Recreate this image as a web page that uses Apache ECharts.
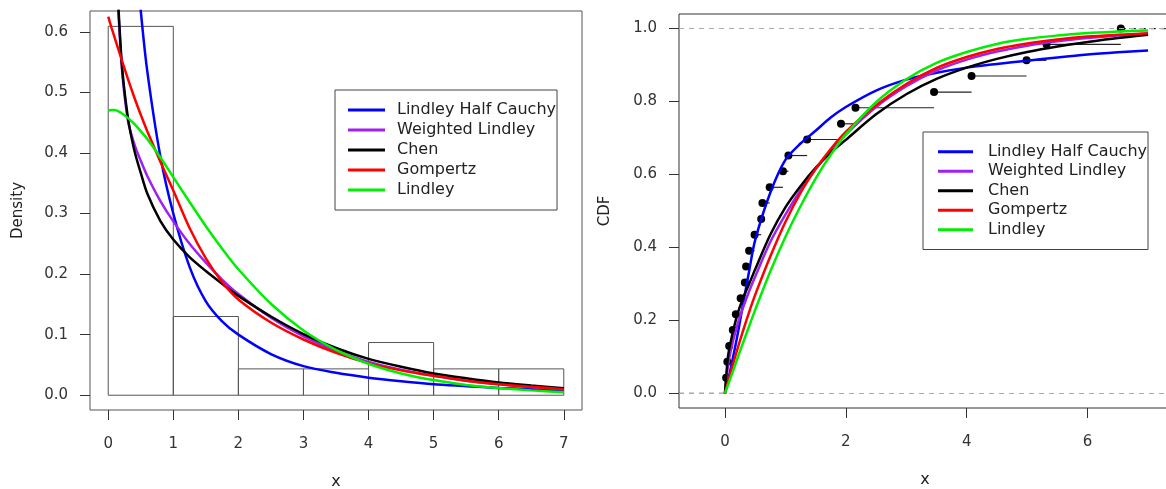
<!DOCTYPE html>
<html>
<head>
<meta charset="utf-8">
<script src="https://cdn.jsdelivr.net/npm/echarts@6/dist/echarts.min.js"></script>
<style>
  html, body { margin: 0; padding: 0; background: #fff; }
  #chart { width: 1166px; height: 489px; }
</style>
</head>
<body>
<div id="chart"></div>
<script>
// Histogram + fitted densities (left), empirical vs fitted CDFs (right)
const FONT = "DejaVu Sans";

const seriesNames = ["Lindley Half Cauchy", "Weighted Lindley", "Chen", "Gompertz", "Lindley"];
const seriesColors = ["#0000FF", "#A020F0", "#000000", "#FF0000", "#00EE00"];

// histogram bins (density scale)
const histLeft = [0, 1, 2, 3, 4, 5, 6];
const histRight = [1, 2, 3, 4, 5, 6, 7];
const histDensity = [0.609, 0.130, 0.0435, 0.0435, 0.087, 0.0435, 0.0435];

// fitted densities
const densX = [0, 0.05, 0.1, 0.2, 0.3, 0.4, 0.5, 0.6, 0.8, 1, 1.25, 1.5, 1.75, 2, 2.5, 3, 3.5, 4, 4.5, 5, 5.5, 6, 6.5, 7];
const densLHC = [null, null, null, 1.05, 0.90, 0.76, 0.635, 0.535, 0.395, 0.300, 0.212, 0.155, 0.122, 0.100, 0.068, 0.048, 0.037, 0.029, 0.023, 0.018, 0.015, 0.012, 0.010, 0.008];
const densWL = [null, 1.15, 0.78, 0.555, 0.455, 0.415, 0.387, 0.362, 0.321, 0.287, 0.250, 0.219, 0.191, 0.167, 0.128, 0.097, 0.073, 0.055, 0.042, 0.032, 0.024, 0.018, 0.013, 0.010];
const densChen = [null, 1.25, 0.80, 0.56, 0.46, 0.405, 0.367, 0.333, 0.288, 0.257, 0.228, 0.205, 0.184, 0.164, 0.130, 0.101, 0.078, 0.060, 0.047, 0.036, 0.028, 0.021, 0.016, 0.0115];
const densGomp = [0.625, 0.607, 0.590, 0.556, 0.523, 0.492, 0.463, 0.436, 0.386, 0.338, 0.276, 0.226, 0.187, 0.158, 0.120, 0.092, 0.070, 0.053, 0.041, 0.032, 0.024, 0.018, 0.014, 0.010];
const densLind = [0.470, 0.471, 0.471, 0.466, 0.458, 0.448, 0.436, 0.423, 0.393, 0.360, 0.319, 0.279, 0.242, 0.208, 0.151, 0.107, 0.075, 0.052, 0.036, 0.025, 0.017, 0.012, 0.008, 0.005];

// empirical CDF jumps
const obsX = [0.02, 0.04, 0.07, 0.13, 0.18, 0.26, 0.33, 0.35, 0.40, 0.49, 0.60, 0.62, 0.74, 0.96, 1.05, 1.36, 1.92, 2.16, 3.46, 4.08, 4.99, 5.32, 6.55];
const obsF = [0.043, 0.087, 0.130, 0.174, 0.217, 0.261, 0.304, 0.348, 0.391, 0.435, 0.478, 0.522, 0.565, 0.609, 0.652, 0.696, 0.739, 0.783, 0.826, 0.870, 0.913, 0.957, 1.000];

// fitted CDFs
const cdfX = [0, 0.05, 0.1, 0.2, 0.3, 0.4, 0.5, 0.75, 1, 1.25, 1.5, 1.75, 2, 2.5, 3, 3.5, 4, 4.5, 5, 5.5, 6, 6.5, 7];
const cdfLHC = [0, 0.035, 0.072, 0.153, 0.245, 0.335, 0.42, 0.55, 0.64, 0.685, 0.72, 0.756, 0.785, 0.83, 0.86, 0.879, 0.893, 0.903, 0.912, 0.921, 0.929, 0.935, 0.940];
const cdfWL = [0, 0.075, 0.12, 0.185, 0.235, 0.28, 0.32, 0.415, 0.49, 0.557, 0.615, 0.664, 0.71, 0.785, 0.842, 0.885, 0.915, 0.937, 0.953, 0.965, 0.974, 0.981, 0.986];
const cdfChen = [0, 0.10, 0.145, 0.213, 0.262, 0.30, 0.34, 0.435, 0.51, 0.568, 0.618, 0.66, 0.695, 0.765, 0.82, 0.862, 0.893, 0.917, 0.936, 0.951, 0.963, 0.974, 0.983];
const cdfGomp = [0, 0.031, 0.061, 0.118, 0.172, 0.223, 0.27, 0.375, 0.47, 0.55, 0.615, 0.67, 0.717, 0.79, 0.848, 0.892, 0.922, 0.944, 0.959, 0.97, 0.978, 0.983, 0.987];
const cdfLind = [0, 0.023, 0.046, 0.093, 0.139, 0.184, 0.229, 0.334, 0.429, 0.513, 0.589, 0.654, 0.71, 0.798, 0.861, 0.906, 0.936, 0.958, 0.972, 0.981, 0.988, 0.992, 0.995];

// tick labels
const leftXTicks = [0, 1, 2, 3, 4, 5, 6, 7];
const leftYTicks = [0, 0.1, 0.2, 0.3, 0.4, 0.5, 0.6];
const rightXTicks = [0, 2, 4, 6];
const rightYTicks = [0, 0.2, 0.4, 0.6, 0.8, 1.0];

const LX = [-0.28, 7.28], LY = [-0.0244, 0.6344];
const RX = [-0.76, 7.38], RY = [-0.04, 1.04];

const chart = echarts.init(document.getElementById("chart"), null, { renderer: "canvas" });

const pair = (xs, ys) => xs.map((x, i) => [x, ys[i] == null ? "-" : ys[i]]);

function xAxisFor(gridIndex, range, ticks) {
  return {
    type: "value", gridIndex, min: range[0], max: range[1],
    name: "x", nameLocation: "middle", nameGap: 64,
    nameTextStyle: { fontSize: 16, color: "#222", fontFamily: FONT },
    axisLine: { show: false, onZero: false },
    axisTick: { show: true, customValues: ticks, length: 10, lineStyle: { color: "#333", width: 1 } },
    axisLabel: { customValues: ticks, margin: 27, fontSize: 15, color: "#333", fontFamily: FONT },
    splitLine: { show: false },
  };
}

function yAxisFor(gridIndex, range, ticks, name, gap) {
  return {
    type: "value", gridIndex, min: range[0], max: range[1],
    name, nameLocation: "middle", nameGap: gap,
    nameTextStyle: { fontSize: 15, color: "#222", fontFamily: FONT },
    axisLine: { show: false, onZero: false },
    axisTick: { show: true, customValues: ticks, length: 10, lineStyle: { color: "#333", width: 1 } },
    axisLabel: { customValues: ticks, margin: 22, fontSize: 15, color: "#333", fontFamily: FONT,
      formatter: (v) => v.toFixed(1) },
    splitLine: { show: false },
  };
}

function legendAt(left, top, lineW, rowH, padLeft, textPad) {
  return {
    orient: "vertical", left, top,
    data: seriesNames, icon: "rect", itemWidth: lineW, itemHeight: 3, itemGap: 0,
    selectedMode: false,
    padding: [10, 1, 10, padLeft],
    borderColor: "#444", borderWidth: 1, backgroundColor: "#fff",
    textStyle: { fontSize: 16, color: "#222", fontFamily: FONT, lineHeight: rowH, padding: [0, 0, 0, textPad] },
  };
}

const densSets = [densLHC, densWL, densChen, densGomp, densLind];
const cdfSets = [cdfLHC, cdfWL, cdfChen, cdfGomp, cdfLind];

const densSeries = densSets.map((ys, i) => ({
  name: seriesNames[i], type: "line", xAxisIndex: 0, yAxisIndex: 0,
  data: pair(densX, ys), smooth: 0.3, showSymbol: false,
  clip: true, z: 3,
  lineStyle: { color: seriesColors[i], width: 2.5 }, itemStyle: { color: seriesColors[i] },
}));

const cdfSeries = cdfSets.map((ys, i) => ({
  name: seriesNames[i], type: "line", xAxisIndex: 1, yAxisIndex: 1,
  data: pair(cdfX, ys), smooth: 0.3, showSymbol: false,
  clip: true, z: 3,
  lineStyle: { color: seriesColors[i], width: 2.5 }, itemStyle: { color: seriesColors[i] },
}));

// histogram rectangles
const histData = histLeft.map((a, i) => [a, histRight[i], histDensity[i]]);

// ECDF horizontal steps
const stepData = obsX.slice(0, -1).map((x, i) => [x, obsX[i + 1], obsF[i]]);
const tailData = [[RX[0], obsX[0], 0], [obsX[obsX.length - 1], RX[1], 1]];

const segRender = (style) => (params, api) => {
  const a = api.coord([api.value(0), api.value(2)]);
  const b = api.coord([api.value(1), api.value(2)]);
  return { type: "line", shape: { x1: a[0], y1: a[1], x2: b[0], y2: b[1] }, style };
};

const option = {
  animation: false,
  backgroundColor: "#fff",
  grid: [
    { left: 90, top: 11, width: 492, height: 399, outerBoundsMode: "none", containLabel: false,
      show: true, borderColor: "#555", borderWidth: 1, backgroundColor: "transparent" },
    { left: 679, top: 14, width: 492, height: 394, outerBoundsMode: "none", containLabel: false,
      show: true, borderColor: "#333", borderWidth: 1, backgroundColor: "transparent" },
  ],
  xAxis: [xAxisFor(0, LX, leftXTicks), xAxisFor(1, RX, rightXTicks)],
  yAxis: [yAxisFor(0, LY, leftYTicks, "Density", 64), yAxisFor(1, RY, rightYTicks, "CDF", 66)],
  legend: [legendAt(335, 90, 37, 20, 13, 7), legendAt(923, 132, 35, 19.5, 15, 10)],
  series: [
    {
      type: "custom", xAxisIndex: 0, yAxisIndex: 0, data: histData, z: 1,
      renderItem: (params, api) => {
        const p0 = api.coord([api.value(0), api.value(2)]);
        const p1 = api.coord([api.value(1), 0]);
        return {
          type: "rect",
          shape: { x: p0[0], y: p0[1], width: p1[0] - p0[0], height: p1[1] - p0[1] },
          style: { fill: "none", stroke: "#555", lineWidth: 1 },
        };
      },
    },
    ...densSeries,
    {
      type: "custom", xAxisIndex: 1, yAxisIndex: 1, data: stepData, z: 2,
      renderItem: segRender({ stroke: "#222", lineWidth: 1.2 }),
    },
    {
      type: "custom", xAxisIndex: 1, yAxisIndex: 1, data: tailData, z: 2,
      renderItem: segRender({ stroke: "#222", lineWidth: 1.2, lineDash: [5, 5] }),
    },
    {
      type: "scatter", xAxisIndex: 1, yAxisIndex: 1, data: pair(obsX, obsF), z: 2,
      symbol: "circle", symbolSize: 8, itemStyle: { color: "#000", opacity: 1 },
      markLine: {
        silent: true, symbol: "none", label: { show: false },
        lineStyle: { color: "#aaa", type: [5, 5], width: 1 },
        data: [{ yAxis: 0 }, { yAxis: 1 }],
      },
    },
    ...cdfSeries,
  ],
};

chart.setOption(option);
</script>
</body>
</html>
